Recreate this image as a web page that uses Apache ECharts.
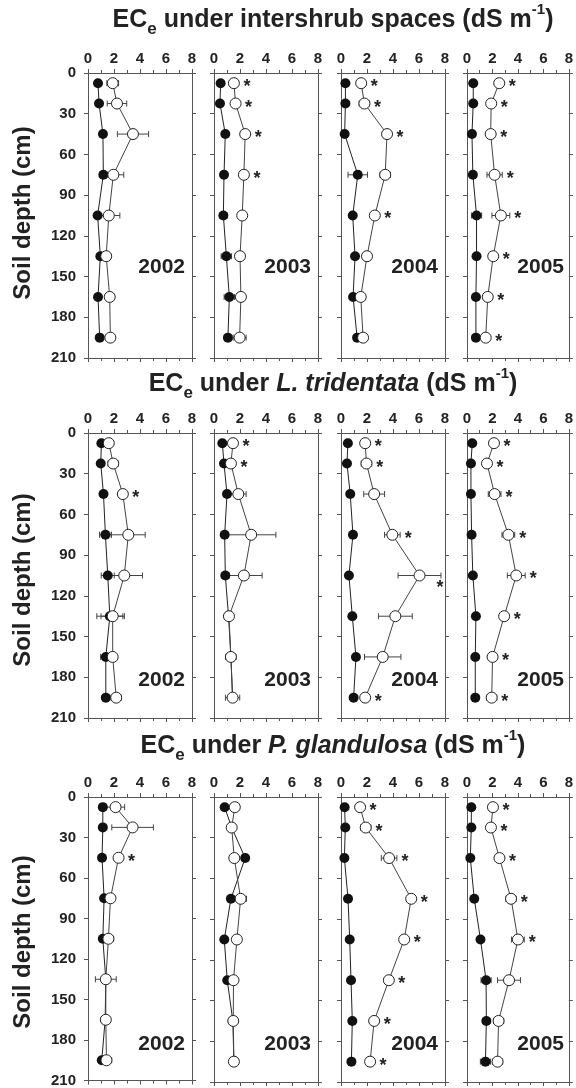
<!DOCTYPE html>
<html>
<head>
<meta charset="utf-8">
<script src="https://cdn.jsdelivr.net/npm/echarts@6/dist/echarts.min.js"></script>
<style>
  html, body { margin: 0; padding: 0; background: #fff; }
  #chart { width: 576px; height: 1088px; }
</style>
</head>
<body>
<div id="chart"></div>
<script>
// sampling depths (cm), shared by every panel
var depths = [7.5, 22.5, 45, 75, 105, 135, 165, 195];
var years = ['2002', '2003', '2004', '2005'];

// ECe under intershrub spaces: one row per year
var interFilled = [
  [0.77, 0.85, 1.15, 1.18, 0.74, 0.95, 0.77, 0.90],
  [0.51, 0.46, 0.87, 0.77, 0.72, 0.95, 1.18, 1.07],
  [0.34, 0.34, 0.28, 1.29, 0.90, 1.08, 0.93, 1.24],
  [0.49, 0.49, 0.39, 0.46, 0.75, 0.75, 0.70, 0.70]
];
var interFilledErr = [
  [0.10, 0.10, 0.20, 0.30, 0.15, 0.25, 0.10, 0.15],
  [0.10, 0.10, 0.10, 0.10, 0.30, 0.40, 0.40, 0.10],
  [0.05, 0.05, 0.05, 0.75, 0.10, 0.10, 0.10, 0.10],
  [0.05, 0.05, 0.05, 0.10, 0.40, 0.20, 0.10, 0.10]
];
var interOpen = [
  [1.90, 2.23, 3.46, 1.95, 1.60, 1.40, 1.67, 1.72],
  [1.53, 1.66, 2.40, 2.30, 2.17, 2.00, 2.07, 1.97],
  [1.55, 1.80, 3.54, 3.40, 2.60, 2.00, 1.52, 1.70],
  [2.53, 1.90, 1.86, 2.17, 2.66, 2.06, 1.63, 1.47]
];
var interOpenErr = [
  [0.45, 0.75, 1.20, 0.80, 0.85, 0.35, 0.30, 0.35],
  [0.15, 0.20, 0.30, 0.20, 0.30, 0.20, 0.20, 0.50],
  [0.10, 0.40, 0.30, 0.40, 0.20, 0.20, 0.20, 0.20],
  [0.10, 0.20, 0.20, 0.60, 0.70, 0.20, 0.30, 0.20]
];
var interStars = [
  [0, 0, 0, 0, 0, 0, 0, 0],
  [1, 1, 1, 1, 0, 0, 0, 0],
  [1, 1, 1, 0, 1, 0, 0, 0],
  [1, 1, 1, 1, 1, 1, 1, 1]
];

// ECe under L. tridentata
var larFilled = [
  [1.03, 0.98, 1.19, 1.34, 1.52, 1.68, 1.37, 1.37],
  [0.64, 0.77, 1.00, 0.82, 0.87, 1.12, 1.30, 1.43],
  [0.53, 0.46, 0.71, 0.92, 0.61, 0.87, 1.15, 0.97],
  [0.41, 0.31, 0.31, 0.36, 0.46, 0.70, 0.65, 0.65]
];
var larFilledErr = [
  [0.10, 0.10, 0.10, 0.45, 0.50, 1.00, 0.40, 0.10],
  [0.10, 0.10, 0.10, 0.10, 0.30, 0.20, 0.40, 0.10],
  [0.10, 0.10, 0.10, 0.10, 0.10, 0.10, 0.10, 0.10],
  [0.10, 0.10, 0.10, 0.10, 0.10, 0.10, 0.10, 0.10]
];
var larOpen = [
  [1.60, 1.94, 2.68, 3.10, 2.79, 1.90, 1.90, 2.17],
  [1.46, 1.30, 1.87, 2.86, 2.30, 1.15, 1.30, 1.43],
  [1.86, 1.96, 2.55, 3.95, 6.04, 4.18, 3.21, 1.86],
  [2.12, 1.57, 2.17, 3.25, 3.87, 2.92, 2.01, 1.94]
];
var larOpenErr = [
  [0.10, 0.40, 0.20, 1.30, 1.40, 0.90, 0.20, 0.40],
  [0.10, 0.10, 0.60, 1.90, 1.40, 0.25, 0.20, 0.55],
  [0.10, 0.40, 0.80, 0.60, 1.65, 1.30, 1.40, 0.10],
  [0.10, 0.10, 0.50, 0.50, 0.70, 0.30, 0.10, 0.40]
];
var larStars = [
  [0, 0, 1, 0, 0, 0, 0, 0],
  [1, 1, 0, 0, 0, 0, 0, 0],
  [1, 1, 0, 1, 1, 0, 0, 1],
  [1, 1, 1, 1, 1, 1, 1, 1]
];

// ECe under P. glandulosa
var glaFilled = [
  [1.14, 1.14, 1.08, 1.24, 1.14, 1.37, 1.32, 1.06],
  [0.82, 1.36, 2.40, 1.30, 0.79, 1.02, 1.45, 1.53],
  [0.28, 0.33, 0.26, 0.54, 0.67, 0.77, 0.87, 0.80],
  [0.34, 0.34, 0.26, 0.57, 1.06, 1.50, 1.52, 1.45]
];
var glaFilledErr = [
  [0.10, 0.10, 0.10, 0.20, 0.20, 0.30, 0.10, 0.10],
  [0.10, 0.10, 0.10, 0.10, 0.10, 0.10, 0.10, 0.10],
  [0.10, 0.10, 0.10, 0.10, 0.10, 0.10, 0.10, 0.10],
  [0.10, 0.10, 0.10, 0.10, 0.10, 0.40, 0.30, 0.40]
];
var glaOpen = [
  [2.12, 3.43, 2.35, 1.73, 1.57, 1.37, 1.37, 1.42],
  [1.60, 1.36, 1.56, 2.05, 1.76, 1.50, 1.48, 1.53],
  [1.47, 1.90, 3.70, 5.40, 4.86, 3.68, 2.55, 2.24],
  [2.04, 1.88, 2.55, 3.46, 4.00, 3.30, 2.48, 2.40]
];
var glaOpenErr = [
  [0.70, 1.60, 0.20, 0.20, 0.40, 0.80, 0.30, 0.40],
  [0.30, 0.10, 0.10, 0.45, 0.10, 0.10, 0.10, 0.10],
  [0.10, 0.40, 0.60, 0.10, 0.10, 0.10, 0.30, 0.10],
  [0.10, 0.10, 0.10, 0.40, 0.50, 0.90, 0.40, 0.40]
];
var glaStars = [
  [0, 0, 1, 0, 0, 0, 0, 0],
  [0, 0, 0, 0, 0, 0, 0, 0],
  [1, 1, 1, 1, 1, 1, 1, 1],
  [1, 1, 1, 1, 1, 0, 0, 0]
];

var FONT = '"Liberation Sans", Arial, sans-serif';
var INK = '#222';
var FRAME = '#555';

// layout
var colLeft = [88, 214, 341, 467];
var rowTop = [73, 433, 797];
var plotW = 104, plotH = 285;
var titleY = [20, 384, 746];
var nameY = [213, 580, 942];
var yearDepth = [143, 182, 182];

var rows = [
  {title: '{a|EC}{s|e}{a| under intershrub spaces (dS m}{p|-1}{a|)}',
   filled: interFilled, filledErr: interFilledErr, open: interOpen, openErr: interOpenErr, stars: interStars},
  {title: '{a|EC}{s|e}{a| under }{i|L. tridentata}{a| (dS m}{p|-1}{a|)}',
   filled: larFilled, filledErr: larFilledErr, open: larOpen, openErr: larOpenErr, stars: larStars},
  {title: '{a|EC}{s|e}{a| under }{i|P. glandulosa}{a| (dS m}{p|-1}{a|)}',
   filled: glaFilled, filledErr: glaFilledErr, open: glaOpen, openErr: glaOpenErr, stars: glaStars}
];

var titleRich = {
  a: {fontSize: 25, fontWeight: 'bold', fontFamily: FONT, fill: INK, lineHeight: 36},
  i: {fontSize: 25, fontWeight: 'bold', fontStyle: 'italic', fontFamily: FONT, fill: INK, lineHeight: 36},
  s: {fontSize: 17, fontWeight: 'bold', fontFamily: FONT, fill: INK, lineHeight: 17, verticalAlign: 'bottom'},
  p: {fontSize: 15, fontWeight: 'bold', fontFamily: FONT, fill: INK, lineHeight: 15, verticalAlign: 'top'}
};

var errorRender = function (params, api) {
  var lo = api.coord([api.value(0), api.value(2)]);
  var hi = api.coord([api.value(1), api.value(2)]);
  var cap = 3;
  var st = {stroke: '#444', lineWidth: 1, fill: null};
  return {
    type: 'group',
    children: [
      {type: 'line', shape: {x1: lo[0], y1: lo[1], x2: hi[0], y2: hi[1]}, style: st},
      {type: 'line', shape: {x1: lo[0], y1: lo[1] - cap, x2: lo[0], y2: lo[1] + cap}, style: st},
      {type: 'line', shape: {x1: hi[0], y1: hi[1] - cap, x2: hi[0], y2: hi[1] + cap}, style: st}
    ]
  };
};

var starRender = function (params, api) {
  var c = api.coord([api.value(0), api.value(2)]);
  var e = api.coord([api.value(0) + api.value(1), api.value(2)]);
  var x = Math.max(c[0] + 13, e[0] + 8);
  var y = c[1] + 4;
  var cs = params.coordSys;
  if (x > cs.x + cs.width - 5) {
    x = cs.x + cs.width - 5;
    y += 9;
  }
  return {
    type: 'text',
    style: {text: '*', x: x, y: y, fill: INK, font: 'bold 18px ' + FONT, align: 'center', verticalAlign: 'middle'}
  };
};

var grids = [], xAxes = [], yAxes = [], series = [], graphics = [];

var lineSt = {color: FRAME, width: 1};

for (var r = 0; r < rows.length; r++) {
  var row = rows[r];
  graphics.push({
    type: 'text', x: 333, y: titleY[r],
    style: {text: row.title, rich: titleRich, align: 'center', verticalAlign: 'middle'}
  });
  graphics.push({
    type: 'text', x: 23, y: nameY[r], rotation: Math.PI / 2,
    style: {text: 'Soil depth (cm)', font: 'bold 24px ' + FONT, fill: INK, align: 'center', verticalAlign: 'middle'}
  });

  for (var c = 0; c < 4; c++) {
    var p = r * 4 + c;
    grids.push({left: colLeft[c], top: rowTop[r], width: plotW, height: plotH, show: false});

    // top axis with labels, bottom axis with ticks only
    ['top', 'bottom'].forEach(function (pos) {
      xAxes.push({
        gridIndex: p, type: 'value', position: pos, min: 0, max: 8, interval: 2,
        axisLine: {show: true, onZero: false, lineStyle: lineSt},
        axisTick: {show: true, length: 4, lineStyle: lineSt},
        minorTick: {show: true, splitNumber: 2, length: 3, lineStyle: lineSt},
        axisLabel: {show: pos === 'top', fontSize: 15, fontWeight: 'bold', fontFamily: FONT, color: INK, margin: 7},
        splitLine: {show: false}, minorSplitLine: {show: false}
      });
    });
    ['left', 'right'].forEach(function (pos) {
      yAxes.push({
        gridIndex: p, type: 'value', position: pos, inverse: true, min: 0, max: 210, interval: 30,
        axisLine: {show: true, onZero: false, lineStyle: lineSt},
        axisTick: {show: true, length: 4, lineStyle: lineSt},
        axisLabel: {show: pos === 'left' && c === 0, fontSize: 15, fontWeight: 'bold', fontFamily: FONT, color: INK, margin: 12},
        splitLine: {show: false}
      });
    });

    var fv = row.filled[c], fe = row.filledErr[c], ov = row.open[c], oe = row.openErr[c], sv = row.stars[c];
    var errData = [], filledData = [], openData = [], starData = [];
    for (var k = 0; k < depths.length; k++) {
      errData.push([fv[k] - fe[k], fv[k] + fe[k], depths[k]]);
      errData.push([ov[k] - oe[k], ov[k] + oe[k], depths[k]]);
      filledData.push([fv[k], depths[k]]);
      openData.push([ov[k], depths[k]]);
      if (sv[k]) starData.push([ov[k], oe[k], depths[k]]);
    }

    series.push({
      type: 'custom', xAxisIndex: 2 * p, yAxisIndex: 2 * p, z: 2,
      renderItem: errorRender, encode: {x: [0, 1], y: 2}, data: errData, silent: true
    });
    series.push({
      type: 'line', xAxisIndex: 2 * p, yAxisIndex: 2 * p, z: 3,
      data: filledData, symbol: 'circle', symbolSize: 10,
      itemStyle: {color: '#111'}, lineStyle: {color: '#222', width: 1}
    });
    series.push({
      type: 'line', xAxisIndex: 2 * p, yAxisIndex: 2 * p, z: 4,
      data: openData, symbol: 'circle', symbolSize: 11,
      itemStyle: {color: '#fff', borderColor: '#222', borderWidth: 1},
      lineStyle: {color: '#444', width: 1}
    });
    series.push({
      type: 'custom', xAxisIndex: 2 * p, yAxisIndex: 2 * p, z: 5,
      renderItem: starRender, encode: {x: 0, y: 2}, data: starData, silent: true
    });

    // year label inside the panel
    graphics.push({
      type: 'text',
      x: colLeft[c] + plotW - 7,
      y: rowTop[r] + yearDepth[r] / 210 * plotH,
      style: {text: years[c], font: 'bold 21px ' + FONT, fill: INK, align: 'right', verticalAlign: 'middle'}
    });
  }
}

var myChart = echarts.init(document.getElementById('chart'), null, {renderer: 'canvas'});
myChart.setOption({
  animation: false,
  backgroundColor: '#fff',
  grid: grids,
  xAxis: xAxes,
  yAxis: yAxes,
  series: series,
  graphic: graphics
});
</script>
</body>
</html>
